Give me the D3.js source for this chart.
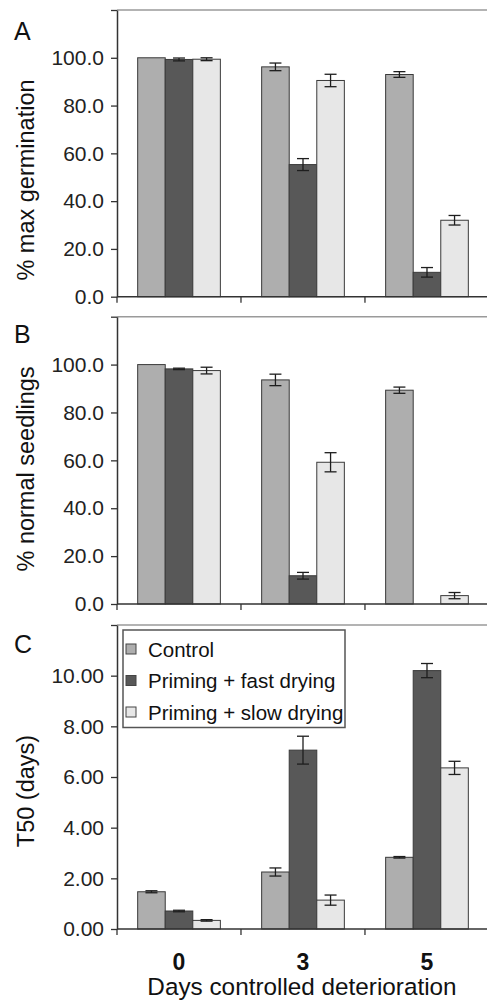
<!DOCTYPE html>
<html>
<head>
<meta charset="utf-8">
<script src="https://cdn.jsdelivr.net/npm/d3@7"></script>
<style>
  body { margin: 0; background: #fff; }
  svg { display: block; font-family: "Liberation Sans", Arial, sans-serif; }
</style>
</head>
<body>
<div id="chart"></div>
<script>
// categories and series
var days = ["0", "3", "5"];
var seriesNames = ["Control", "Priming + fast drying", "Priming + slow drying"];
var seriesColors = ["#aeaeae", "#585858", "#e7e7e7"];

// A: % max germination
var germControl = [100.0, 96.2, 93.0];
var germFast = [99.3, 55.3, 10.2];
var germSlow = [99.4, 90.5, 32.0];
var germControlErr = [0.0, 1.6, 1.2];
var germFastErr = [0.6, 2.5, 2.0];
var germSlowErr = [0.6, 2.6, 2.0];

// B: % normal seedlings
var seedControl = [100.0, 93.6, 89.3];
var seedFast = [98.2, 11.8, 0.0];
var seedSlow = [97.5, 59.2, 3.5];
var seedControlErr = [0.0, 2.4, 1.3];
var seedFastErr = [0.3, 1.4, 0.0];
var seedSlowErr = [1.4, 4.0, 1.3];

// C: T50 (days)
var t50Control = [1.47, 2.25, 2.83];
var t50Fast = [0.71, 7.06, 10.2];
var t50Slow = [0.34, 1.14, 6.36];
var t50ControlErr = [0.04, 0.16, 0.03];
var t50FastErr = [0.03, 0.55, 0.28];
var t50SlowErr = [0.03, 0.2, 0.26];

var pctTicks = [0, 20, 40, 60, 80, 100, 120];
var t50Ticks = [0, 2, 4, 6, 8, 10, 12];

var svgWidth = 487;
var svgHeight = 1002;

var svg = d3.select("#chart")
  .append("svg")
  .attr("width", svgWidth)
  .attr("height", svgHeight);

var left = 117;
var right = 489;

// shared category scale
var x0 = d3.scaleBand()
  .domain(days)
  .range([left, right])
  .paddingInner(0.333)
  .paddingOuter(0.1667);

var x1 = d3.scaleBand()
  .domain(seriesNames)
  .range([0, x0.bandwidth()]);

var panels = [
  { letter: "A", title: "% max germination", top: 10, bottom: 296.7, max: 120, ticks: pctTicks, fmt: d3.format(".1f"),
    means: [germControl, germFast, germSlow], errs: [germControlErr, germFastErr, germSlowErr],
    letterY: 40, titleY: 180 },
  { letter: "B", title: "% normal seedlings", top: 316.7, bottom: 604, max: 120, ticks: pctTicks, fmt: d3.format(".1f"),
    means: [seedControl, seedFast, seedSlow], errs: [seedControlErr, seedFastErr, seedSlowErr],
    letterY: 342.5, titleY: 469 },
  { letter: "C", title: "T50 (days)", top: 625, bottom: 929, max: 12, ticks: t50Ticks, fmt: d3.format(".2f"),
    means: [t50Control, t50Fast, t50Slow], errs: [t50ControlErr, t50FastErr, t50SlowErr],
    letterY: 652.5, titleY: 791 }
];

panels.forEach(function(p) {
  var y = d3.scaleLinear().domain([0, p.max]).range([p.bottom, p.top]);
  var g = svg.append("g");

  // top frame line
  g.append("line")
    .attr("x1", left).attr("x2", svgWidth)
    .attr("y1", y(p.max)).attr("y2", y(p.max))
    .attr("stroke", "#9a9a9a").attr("stroke-width", 1.5);

  // bars
  var rows = [];
  days.forEach(function(d, i) {
    seriesNames.forEach(function(s, j) {
      rows.push({ day: d, series: s, idx: j, value: p.means[j][i], err: p.errs[j][i] });
    });
  });

  g.selectAll("rect.bar")
    .data(rows.filter(function(r) { return r.value > 0; }))
    .enter()
    .append("rect")
    .attr("class", "bar")
    .attr("x", function(r) { return x0(r.day) + x1(r.series); })
    .attr("y", function(r) { return y(r.value); })
    .attr("width", x1.bandwidth())
    .attr("height", function(r) { return y(0) - y(r.value); })
    .attr("fill", function(r) { return seriesColors[r.idx]; })
    .attr("stroke", "#3a3a3a")
    .attr("stroke-width", 1);

  // error bars
  var errRows = rows.filter(function(r) { return r.err > 0; });
  var eb = g.selectAll("g.err")
    .data(errRows)
    .enter()
    .append("g")
    .attr("class", "err")
    .attr("stroke", "#1e1e1e")
    .attr("stroke-width", 1.3);
  var cx = function(r) { return x0(r.day) + x1(r.series) + x1.bandwidth() / 2; };
  eb.append("line")
    .attr("x1", cx).attr("x2", cx)
    .attr("y1", function(r) { return y(r.value + r.err); })
    .attr("y2", function(r) { return y(r.value - r.err); });
  eb.append("line")
    .attr("x1", function(r) { return cx(r) - 6; }).attr("x2", function(r) { return cx(r) + 6; })
    .attr("y1", function(r) { return y(r.value + r.err); })
    .attr("y2", function(r) { return y(r.value + r.err); });
  eb.append("line")
    .attr("x1", function(r) { return cx(r) - 6; }).attr("x2", function(r) { return cx(r) + 6; })
    .attr("y1", function(r) { return y(r.value - r.err); })
    .attr("y2", function(r) { return y(r.value - r.err); });

  // y axis
  var yAxis = g.append("g")
    .attr("transform", "translate(" + left + ",0)")
    .call(d3.axisLeft(y)
      .tickValues(p.ticks)
      .tickSize(6)
      .tickSizeOuter(0)
      .tickPadding(7)
      .tickFormat(function(v) { return v === p.max ? "" : p.fmt(v); }));
  yAxis.select(".domain").attr("stroke", "#333").attr("stroke-width", 1.5);
  yAxis.selectAll(".tick line").attr("stroke", "#333").attr("stroke-width", 1.3);
  yAxis.selectAll(".tick text")
    .attr("font-size", "21px")
    .attr("fill", "#222")
    .attr("font-family", "Liberation Sans, Arial, sans-serif");

  // x baseline
  g.append("line")
    .attr("x1", left).attr("x2", svgWidth)
    .attr("y1", y(0)).attr("y2", y(0))
    .attr("stroke", "#333").attr("stroke-width", 1.5);

  // category boundary ticks
  var bounds = d3.range(days.length + 1).map(function(i) { return left + i * x0.step(); });
  g.selectAll("line.bound")
    .data(bounds)
    .enter()
    .append("line")
    .attr("class", "bound")
    .attr("x1", function(b) { return b; }).attr("x2", function(b) { return b; })
    .attr("y1", y(0)).attr("y2", y(0) + 6)
    .attr("stroke", "#333").attr("stroke-width", 1.3);

  // panel letter
  svg.append("text")
    .attr("x", 14)
    .attr("y", p.letterY)
    .attr("font-size", "25px")
    .attr("fill", "#111")
    .text(p.letter);

  // y title
  svg.append("text")
    .attr("transform", "translate(34," + p.titleY + ") rotate(-90)")
    .attr("text-anchor", "middle")
    .attr("font-size", "23.5px")
    .attr("fill", "#111")
    .text(p.title);
});

// legend in panel C
var legend = svg.append("g").attr("transform", "translate(123,630)");
legend.append("rect")
  .attr("width", 222).attr("height", 97.5)
  .attr("fill", "#fff")
  .attr("stroke", "#555").attr("stroke-width", 1.5);
var items = legend.selectAll("g.item")
  .data(seriesNames)
  .enter()
  .append("g")
  .attr("class", "item")
  .attr("transform", function(d, i) { return "translate(0," + (19 + i * 31.5) + ")"; });
items.append("rect")
  .attr("x", 3).attr("y", -5)
  .attr("width", 10).attr("height", 10)
  .attr("fill", function(d, i) { return seriesColors[i]; })
  .attr("stroke", "#444").attr("stroke-width", 1);
items.append("text")
  .attr("x", 25).attr("y", 7.5)
  .attr("font-size", "20.5px")
  .attr("fill", "#111")
  .text(function(d) { return d; });

// x category labels
svg.selectAll("text.cat")
  .data(days)
  .enter()
  .append("text")
  .attr("class", "cat")
  .attr("x", function(d) { return x0(d) + x0.bandwidth() / 2; })
  .attr("y", 970)
  .attr("text-anchor", "middle")
  .attr("font-size", "23px")
  .attr("font-weight", "bold")
  .attr("fill", "#111")
  .text(function(d) { return d; });

svg.append("text")
  .attr("x", 302)
  .attr("y", 995)
  .attr("text-anchor", "middle")
  .attr("font-size", "24.3px")
  .attr("fill", "#111")
  .text("Days controlled deterioration");
</script>
</body>
</html>
